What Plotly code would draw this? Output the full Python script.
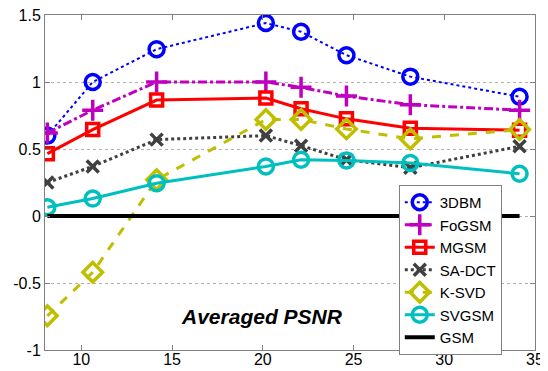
import plotly.graph_objects as go

x = [8.13, 10.63, 14.15, 20.17, 22.11, 24.61, 28.13, 34.15]
bm3d = [0.60, 1.00, 1.245, 1.44, 1.375, 1.20, 1.04, 0.89]
fogsm = [0.62, 0.79, 1.00, 1.00, 0.96, 0.895, 0.83, 0.79]
mgsm = [0.465, 0.645, 0.865, 0.88, 0.80, 0.725, 0.655, 0.64]
sadct = [0.25, 0.37, 0.57, 0.60, 0.525, 0.42, 0.36, 0.52]
ksvd = [-0.745, -0.42, 0.27, 0.72, 0.72, 0.65, 0.575, 0.645]
svgsm = [0.065, 0.13, 0.245, 0.37, 0.42, 0.415, 0.395, 0.315]
gsm = [0, 0, 0, 0, 0, 0, 0, 0]

names = ["3DBM", "FoGSM", "MGSM", "SA-DCT", "K-SVD", "SVGSM", "GSM"]
xticks = [10, 15, 20, 25, 30, 35]
yticks = [-1, -0.5, 0, 0.5, 1, 1.5]

styles = [
    dict(color="#0000ff", dash="dot", lw=2, sym="circle-open", ms=15),
    dict(color="#bf00bf", dash="dashdot", lw=3, sym="cross-thin-open", ms=15),
    dict(color="#ff0000", dash="solid", lw=3, sym="square-open", ms=12),
    dict(color="#404040", dash="dot", lw=3, sym="x-thin-open", ms=12),
    dict(color="#bfbf00", dash="dash", lw=3, sym="diamond-open", ms=15),
    dict(color="#00bfbf", dash="solid", lw=3, sym="circle-open", ms=15),
]
series = [bm3d, fogsm, mgsm, sadct, ksvd, svgsm]

fig = go.Figure()
for name, ys, st in zip(names[:6], series, styles):
    fig.add_trace(go.Scatter(
        x=x, y=ys, name=name, mode="lines+markers",
        line=dict(color=st["color"], dash=st["dash"], width=st["lw"]),
        marker=dict(symbol=st["sym"], size=st["ms"], color=st["color"],
                    line=dict(color=st["color"], width=3.5)),
    ))
fig.add_trace(go.Scatter(x=x, y=gsm, name=names[6], mode="lines",
                         line=dict(color="black", width=4)))

fig.add_annotation(x=0.273, y=0.06, xref="paper", yref="paper",
                   text="<b><i>Averaged PSNR</i></b>", showarrow=False,
                   font=dict(family="Arial, Liberation Sans", size=21, color="black"))

axis_common = dict(showline=True, mirror="ticks", linecolor="#808080", linewidth=1,
                   ticks="inside", ticklen=5, tickcolor="#808080", automargin=False,
                   ticklabeloverflow="allow",
                   tickfont=dict(family="Arial, Liberation Sans", size=16, color="black"),
                   zeroline=False)
fig.update_xaxes(range=[8, 35], tickvals=xticks, showgrid=False, ticklabelstandoff=-5,
                 **axis_common)
fig.update_yaxes(range=[-1, 1.5], tickvals=yticks, ticktext=["-1", "-0.5", "0", "0.5", "1", "1.5"],
                 showgrid=True, gridcolor="#b0b0b0", griddash="dot", gridwidth=1, **axis_common)

# page body has an 8px margin: shrink figure so that plot area lands at the reference pixels
fig.update_layout(
    width=540, height=363, plot_bgcolor="white", paper_bgcolor="white",
    margin=dict(l=37, r=13, t=7, b=21),
    legend=dict(x=0.722, y=0.4925, xanchor="left", yanchor="top",
                bgcolor="white", bordercolor="#808080", borderwidth=1,
                font=dict(family="Arial, Liberation Sans", size=15, color="black"),
                tracegroupgap=0, itemwidth=30),
)
fig.write_html("out.html")
